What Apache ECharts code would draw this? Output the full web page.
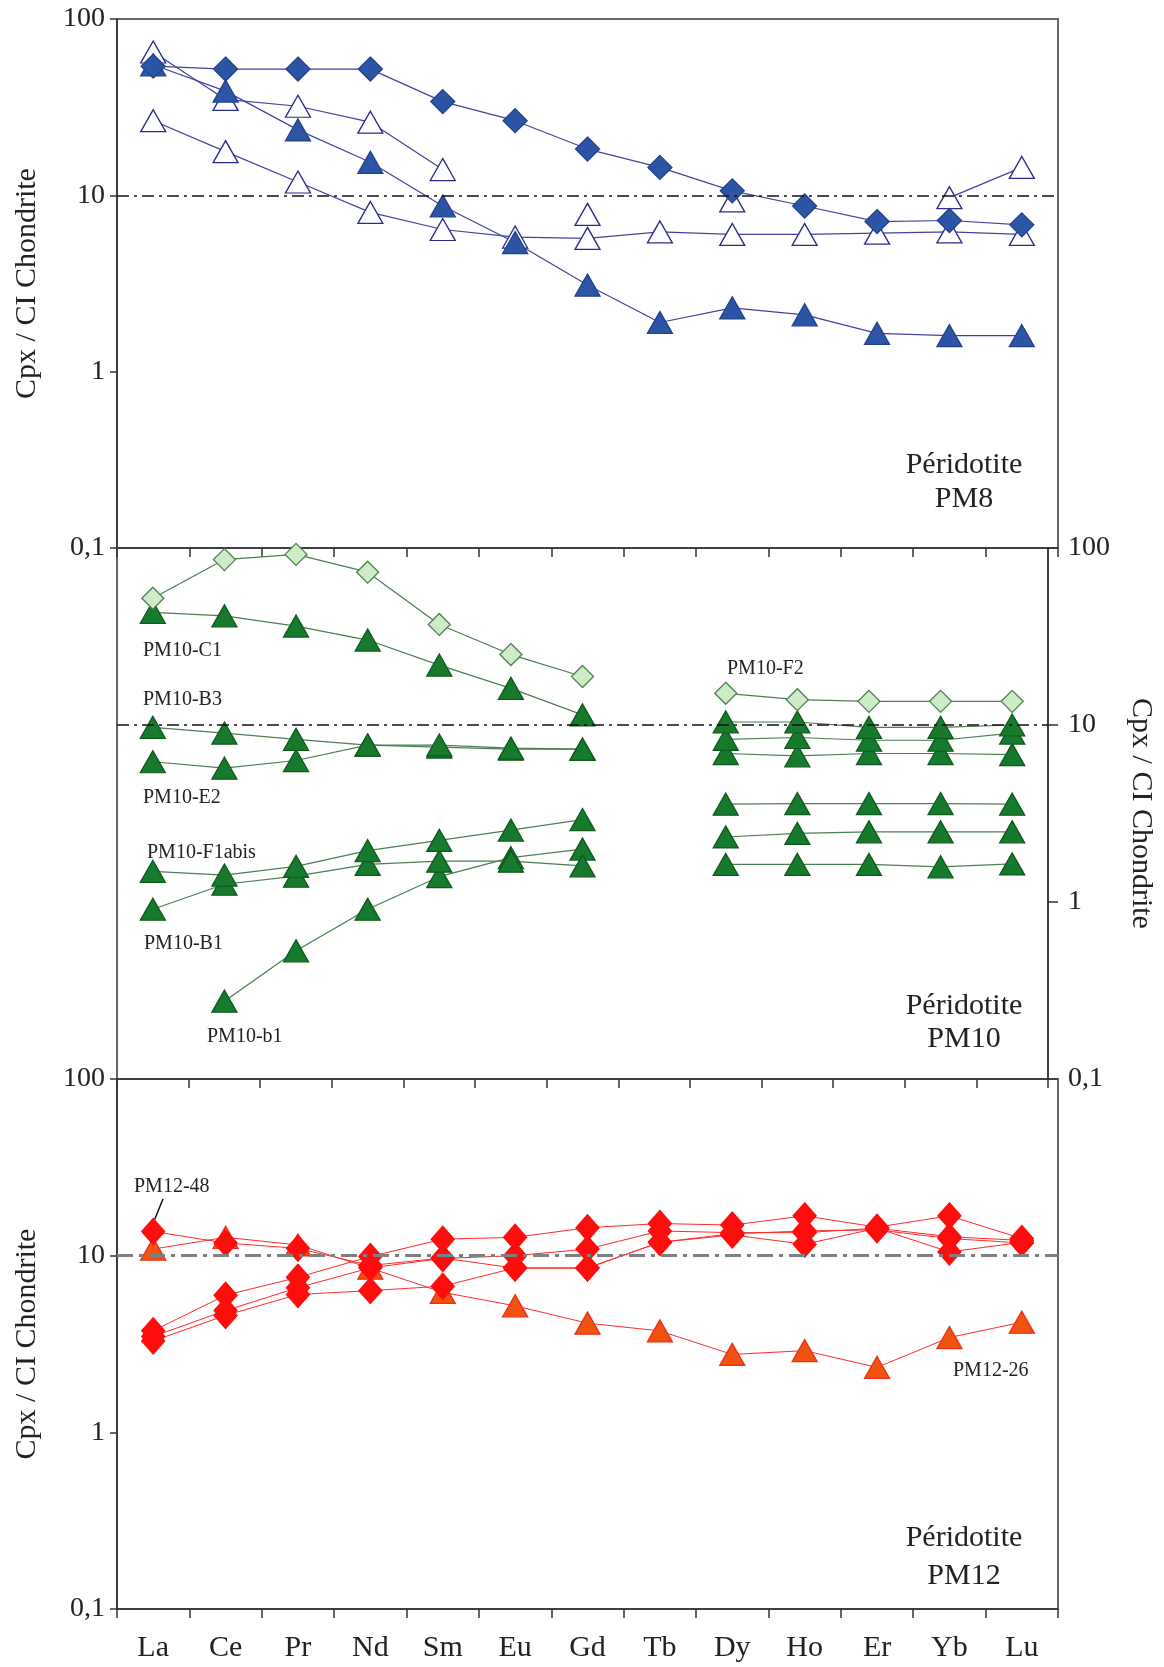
<!DOCTYPE html>
<html>
<head>
<meta charset="utf-8">
<title>Cpx / CI Chondrite</title>
<script src="https://cdn.jsdelivr.net/npm/echarts@6/dist/echarts.min.js"></script>
<style>
html, body { margin: 0; padding: 0; background: #fff; }
#main { width: 1164px; height: 1667px; }
</style>
</head>
<body>
<div id="main"></div>
<script>
// terres rares, normalisées aux chondrites CI
var elements = ["La", "Ce", "Pr", "Nd", "Sm", "Eu", "Gd", "Tb", "Dy", "Ho", "Er", "Yb", "Lu"];
var refLevel = 10;

// Péridotite PM8
var pm8Diamond = [54, 52, 52, 52, 34, 26.5, 18.3, 14.4, 10.6, 8.7, 7.1, 7.2, 6.8];
var pm8TriFilled = [55, 39, 23.5, 15.4, 8.7, 5.4, 3.1, 1.9, 2.3, 2.1, 1.65, 1.6, 1.6];
var pm8TriOpenA = [65, 35, 32, 26, 14, null, 7.8, null, 9.3, null, null, 9.7, 14.4];
var pm8TriOpenB = [26.5, 17.7, 11.9, 8.0, 6.4, 5.8, 5.7, 6.2, 6.0, 6.0, 6.1, 6.2, 6.0];

// Péridotite PM10
var pm10F2 = [52, 86, 92, 73, 37, 25, 18.8, null, 15.1, 13.9, 13.6, 13.6, 13.6];
var pm10C1 = [43.3, 41.4, 36.2, 30.2, 21.8, 16.1, 11.4, null, 10.4, 10.4, 9.7, 9.7, 10.0];
var pm10B3 = [9.7, 9.0, 8.3, 7.7, 7.7, 7.4, 7.3, null, 8.3, 8.5, 8.2, 8.2, 9.0];
var pm10E2 = [6.2, 5.7, 6.3, 7.7, 7.5, 7.3, 7.3, null, 6.9, 6.7, 6.9, 6.9, 6.8];
var pm10F1abis = [1.49, 1.42, 1.59, 1.95, 2.23, 2.55, 2.92, null, 3.57, 3.6, 3.6, 3.6, 3.57];
var pm10B1 = [0.91, 1.26, 1.40, 1.63, 1.70, 1.70, 1.60, null, 1.63, 1.63, 1.63, 1.58, 1.64];
var pm10b1 = [null, 0.275, 0.53, 0.91, 1.39, 1.78, 1.99, null, 2.33, 2.44, 2.49, 2.49, 2.49];

// Péridotite PM12
var pm12_48 = [13.7, 11.8, 11.0, 8.8, 9.7, 8.5, 8.5, 11.9, 13.1, 11.6, 14.3, 10.5, 11.9];
var pm12_a = [3.76, 5.97, 7.54, 9.9, 12.4, 12.7, 14.4, 15.2, 14.9, 16.8, 14.5, 16.8, 12.5];
var pm12_b = [3.49, 4.89, 6.59, 8.53, 9.65, 10.0, 10.9, 13.8, 13.5, 13.5, 14.3, 12.8, 12.2];
var pm12_c = [3.29, 4.59, 6.03, 6.34, 6.72, 8.53, 8.53, 11.9, 13.3, 13.8, 14.0, 12.5, 11.8];
var pm12_26 = [10.9, 12.7, 11.5, 8.5, 6.2, 5.2, 4.15, 3.75, 2.76, 2.9, 2.33, 3.44, 4.2];

var serif = '"Liberation Serif", "DejaVu Serif", serif';

function line(grid, data, symbol, size, fill, stroke, lineColor, lineWidth) {
  return {
    type: "line",
    xAxisIndex: grid,
    yAxisIndex: grid,
    data: data,
    symbol: symbol,
    symbolSize: size,
    showAllSymbol: true,
    connectNulls: false,
    lineStyle: { color: lineColor, width: lineWidth },
    itemStyle: { color: fill, borderColor: stroke, borderWidth: 1.3 },
    emphasis: { disabled: true },
    silent: true
  };
}

// ligne tiret-point au niveau 10
function refLine(color, width, dash) {
  return {
    silent: true,
    symbol: ["none", "none"],
    label: { show: false },
    lineStyle: { color: color, width: width, type: dash },
    data: [{ yAxis: refLevel }]
  };
}

var grids = [
  { left: 117, top: 19, width: 941, height: 529 },
  { left: 117, top: 548, width: 941, height: 531 },
  { left: 117, top: 1079, width: 941, height: 530 }
];
grids.forEach(function(g) {
  g.show = true;
  g.borderColor = "#666";
  g.borderWidth = 2;
});

var xAxes = [0, 1, 2].map(function(i) {
  return {
    gridIndex: i,
    type: "category",
    data: elements,
    boundaryGap: true,
    axisLine: { lineStyle: { color: "#333", width: 1.5 } },
    axisTick: { show: true, inside: false, length: 9, interval: 0, lineStyle: { color: "#333", width: 1.5 } },
    axisLabel: { show: i === 2, interval: 0, margin: 24, fontFamily: serif, fontSize: 30, color: "#222" },
    splitLine: { show: false }
  };
});

var yAxes = [0, 1, 2].map(function(i) {
  var right = i === 1;
  return {
    gridIndex: i,
    type: "log",
    logBase: 10,
    min: 0.1,
    max: 100,
    position: right ? "right" : "left",
    name: "Cpx / CI Chondrite",
    nameLocation: "middle",
    nameRotate: right ? -90 : 90,
    nameGap: right ? 78 : 75,
    nameTextStyle: { fontFamily: serif, fontSize: 30, color: "#222" },
    axisLine: { show: true, lineStyle: { color: "#333", width: 1.5 } },
    axisTick: { show: true, inside: false, length: right ? 10 : 7, lineStyle: { color: "#333", width: 1.5 } },
    axisLabel: {
      showMinLabel: true,
      showMaxLabel: true,
      margin: right ? 20 : 12,
      fontFamily: serif,
      fontSize: 28,
      color: "#222",
      formatter: function(v) { return v < 0.5 ? "0,1" : String(Math.round(v)); }
    },
    splitLine: { show: false },
    minorTick: { show: false }
  };
});

var blue = "#2d55a6", blueLine = "#4242a0", navy = "#2a2a8c";
var green = "#167a2c", greenEdge = "#0e5a1e", greenLine = "#4d7d52";
var pale = "#cdebc7", paleEdge = "#4e7f4e";
var red = "#ff0d0d", redLine = "#ff2a2a", orange = "#f2520f";

var series = [
  line(0, pm8TriOpenB, "triangle", [25, 22], "#fff", navy, blueLine, 1.2),
  line(0, pm8TriOpenA, "triangle", [25, 22], "#fff", navy, blueLine, 1.2),
  line(0, pm8TriFilled, "triangle", [25, 22], blue, "#23408a", blueLine, 1.2),
  line(0, pm8Diamond, "diamond", [24, 24], blue, "#23408a", blueLine, 1.2),

  line(1, pm10b1, "triangle", [25, 22], green, greenEdge, greenLine, 1.2),
  line(1, pm10B1, "triangle", [25, 22], green, greenEdge, greenLine, 1.2),
  line(1, pm10F1abis, "triangle", [25, 22], green, greenEdge, greenLine, 1.2),
  line(1, pm10E2, "triangle", [25, 22], green, greenEdge, greenLine, 1.2),
  line(1, pm10B3, "triangle", [25, 22], green, greenEdge, greenLine, 1.2),
  line(1, pm10C1, "triangle", [25, 22], green, greenEdge, greenLine, 1.2),
  line(1, pm10F2, "diamond", [22, 22], pale, paleEdge, greenLine, 1.2),

  line(2, pm12_26, "triangle", [25, 22], orange, "#e8301a", redLine, 1),
  line(2, pm12_c, "diamond", [23, 26], red, red, redLine, 1),
  line(2, pm12_b, "diamond", [23, 26], red, red, redLine, 1),
  line(2, pm12_a, "diamond", [23, 26], red, red, redLine, 1),
  line(2, pm12_48, "diamond", [23, 26], red, red, redLine, 1)
];

series[0].markLine = refLine("#111", 1.5, [12, 5, 3, 5]);
series[4].markLine = refLine("#111", 1.5, [12, 5, 3, 5]);
series[11].markLine = refLine("#808080", 3, [16, 6, 4, 6]);

function txt(x, y, text, size, align) {
  return {
    type: "text",
    x: x,
    y: y,
    silent: true,
    style: {
      text: text,
      fill: "#222",
      font: size + "px " + serif,
      textAlign: align || "left",
      textVerticalAlign: "middle"
    }
  };
}

var graphics = [
  txt(964, 465, "Péridotite", 30, "center"),
  txt(964, 499, "PM8", 30, "center"),
  txt(964, 1006, "Péridotite", 30, "center"),
  txt(964, 1039, "PM10", 30, "center"),
  txt(964, 1538, "Péridotite", 30, "center"),
  txt(964, 1576, "PM12", 30, "center"),
  txt(143, 651, "PM10-C1", 20),
  txt(143, 700, "PM10-B3", 20),
  txt(143, 798, "PM10-E2", 20),
  txt(147, 853, "PM10-F1abis", 20),
  txt(144, 944, "PM10-B1", 20),
  txt(207, 1037, "PM10-b1", 20),
  txt(727, 669, "PM10-F2", 20),
  txt(134, 1187, "PM12-48", 20),
  txt(953, 1371, "PM12-26", 20),
  {
    type: "line",
    silent: true,
    shape: { x1: 163, y1: 1199, x2: 152, y2: 1226 },
    style: { stroke: "#111", lineWidth: 1.5 }
  }
];

var chart = echarts.init(document.getElementById("main"));
chart.setOption({
  animation: false,
  backgroundColor: "#fff",
  grid: grids,
  xAxis: xAxes,
  yAxis: yAxes,
  series: series,
  graphic: graphics
});
</script>
</body>
</html>
